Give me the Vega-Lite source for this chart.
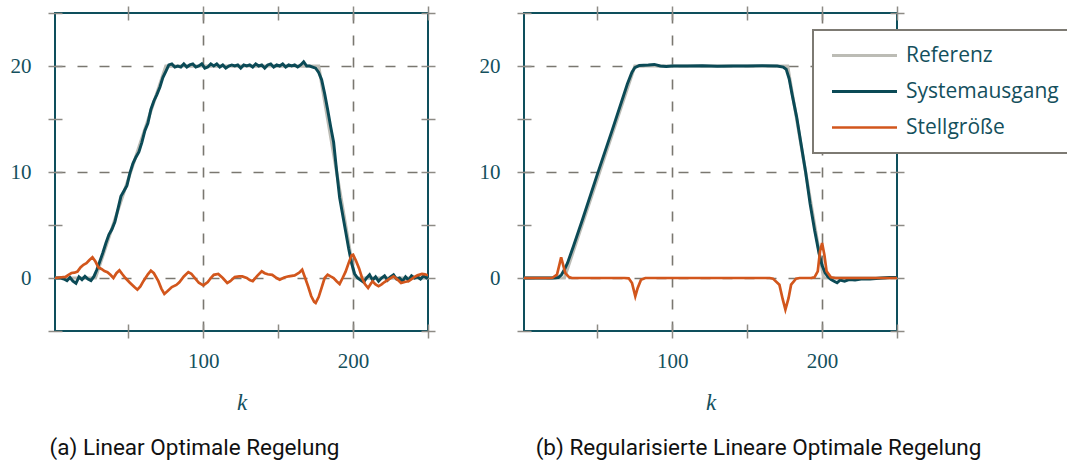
{
  "$schema": "https://vega.github.io/schema/vega-lite/v6.json",
  "background": "white",
  "padding": {"left": 9, "top": 1, "right": 0, "bottom": 0},
  "config": {
    "view": {"stroke": "#0e4f5c", "strokeWidth": 2},
    "axis": {"tickColor": "#8d8b85", "tickWidth": 1.5, "labelFont": "Liberation Serif", "labelFontSize": 21, "labelColor": "#14505d", "gridColor": "#7a7770", "gridWidth": 1.6, "gridDash": [10, 12], "domain": false, "labelOverlap": false, "labelFlush": false},
    "legend": {"strokeWidth": 2}
  },
  "datasets": {
    "a": [
      {"k":1,"r":0},{"k":28,"r":0},{"k":75,"r":20},{"k":177,"r":20},{"k":201,"r":0},{"k":250,"r":0},
      {"k":1,"y":0},{"k":3,"y":0},{"k":5,"y":0},{"k":7,"y":-0.1},{"k":9,"y":-0.25},{"k":11,"y":0.05},{"k":13,"y":-0.3},{"k":15,"y":-0.5},{"k":17,"y":0.1},{"k":19,"y":-0.15},{"k":21,"y":0.15},{"k":23,"y":-0.1},{"k":25,"y":-0.25},{"k":27,"y":0.15},{"k":29,"y":0.8},{"k":31,"y":1.6},{"k":33,"y":2.4},{"k":35,"y":3.3},{"k":37,"y":4.1},{"k":39,"y":4.6},{"k":41,"y":5.3},{"k":43,"y":6.5},{"k":45,"y":7.7},{"k":47,"y":8.2},{"k":49,"y":8.7},{"k":51,"y":9.9},{"k":53,"y":10.8},{"k":55,"y":11.4},{"k":57,"y":11.9},{"k":59,"y":12.8},{"k":61,"y":13.9},{"k":63,"y":14.6},{"k":65,"y":15.9},{"k":67,"y":16.7},{"k":69,"y":17.3},{"k":71,"y":18.0},{"k":73,"y":18.9},{"k":75,"y":19.5},{"k":77,"y":20.1},{"k":79,"y":20.2},{"k":81,"y":19.9},{"k":83,"y":20.0},{"k":85,"y":19.9},{"k":87,"y":20.2},{"k":89,"y":19.9},{"k":91,"y":20.1},{"k":93,"y":20.2},{"k":95,"y":19.9},{"k":97,"y":20.0},{"k":99,"y":20.2},{"k":101,"y":19.8},{"k":103,"y":19.9},{"k":105,"y":20.2},{"k":107,"y":20.0},{"k":109,"y":20.2},{"k":111,"y":19.9},{"k":113,"y":20.1},{"k":115,"y":19.8},{"k":117,"y":20.0},{"k":119,"y":20.1},{"k":121,"y":20.0},{"k":123,"y":20.1},{"k":125,"y":19.8},{"k":127,"y":20.1},{"k":129,"y":20.0},{"k":131,"y":20.1},{"k":133,"y":19.9},{"k":135,"y":20.2},{"k":137,"y":20.0},{"k":139,"y":20.1},{"k":141,"y":19.8},{"k":143,"y":20.1},{"k":145,"y":20.2},{"k":147,"y":19.9},{"k":149,"y":20.1},{"k":151,"y":20.0},{"k":153,"y":20.2},{"k":155,"y":19.9},{"k":157,"y":20.1},{"k":159,"y":20.0},{"k":161,"y":20.1},{"k":163,"y":19.9},{"k":165,"y":20.1},{"k":167,"y":20.4},{"k":169,"y":20.0},{"k":171,"y":20.0},{"k":173,"y":19.9},{"k":175,"y":19.8},{"k":177,"y":19.4},{"k":179,"y":18.7},{"k":181,"y":17.4},{"k":183,"y":15.9},{"k":185,"y":14.3},{"k":187,"y":12.8},{"k":189,"y":10.1},{"k":191,"y":7.6},{"k":193,"y":6.0},{"k":195,"y":4.4},{"k":197,"y":2.8},{"k":199,"y":1.4},{"k":201,"y":0.4},{"k":203,"y":0.0},{"k":205,"y":-0.2},{"k":207,"y":-0.4},{"k":209,"y":0.0},{"k":211,"y":0.3},{"k":213,"y":-0.2},{"k":215,"y":0.1},{"k":217,"y":-0.3},{"k":219,"y":0.0},{"k":221,"y":0.2},{"k":223,"y":-0.2},{"k":225,"y":0.1},{"k":227,"y":0.3},{"k":229,"y":-0.1},{"k":231,"y":0.0},{"k":233,"y":-0.3},{"k":235,"y":0.1},{"k":237,"y":-0.2},{"k":239,"y":0.2},{"k":241,"y":0.0},{"k":243,"y":0.1},{"k":245,"y":-0.1},{"k":247,"y":0.2},{"k":249,"y":0.0},{"k":250,"y":0.1},
      {"k":1,"u":0},{"k":4,"u":0.05},{"k":8,"u":0.1},{"k":10,"u":0.3},{"k":12,"u":0.47},{"k":14,"u":0.5},{"k":16,"u":0.6},{"k":18,"u":1.0},{"k":20,"u":1.25},{"k":22,"u":1.4},{"k":24,"u":1.7},{"k":26,"u":1.95},{"k":28,"u":1.55},{"k":30,"u":1.0},{"k":32,"u":0.85},{"k":34,"u":0.65},{"k":36,"u":0.55},{"k":38,"u":0.3},{"k":40,"u":0.0},{"k":42,"u":0.45},{"k":44,"u":0.72},{"k":46,"u":0.35},{"k":48,"u":0.0},{"k":51,"u":-0.45},{"k":54,"u":-0.85},{"k":56,"u":-1.1},{"k":58,"u":-0.8},{"k":60,"u":-0.3},{"k":63,"u":0.35},{"k":65,"u":0.7},{"k":67,"u":0.45},{"k":70,"u":-0.3},{"k":72,"u":-1.0},{"k":74,"u":-1.5},{"k":76,"u":-1.25},{"k":79,"u":-0.85},{"k":82,"u":-0.65},{"k":84,"u":-0.4},{"k":87,"u":0.15},{"k":90,"u":0.56},{"k":92,"u":0.4},{"k":94,"u":0.06},{"k":97,"u":-0.45},{"k":100,"u":-0.7},{"k":103,"u":-0.38},{"k":105,"u":0.0},{"k":107,"u":0.3},{"k":110,"u":0.38},{"k":113,"u":0.0},{"k":116,"u":-0.47},{"k":118,"u":-0.3},{"k":121,"u":0.1},{"k":124,"u":0.16},{"k":126,"u":0.15},{"k":129,"u":0.0},{"k":131,"u":-0.2},{"k":133,"u":-0.3},{"k":136,"u":0.2},{"k":139,"u":0.63},{"k":141,"u":0.45},{"k":143,"u":0.35},{"k":146,"u":0.3},{"k":149,"u":0.0},{"k":151,"u":-0.16},{"k":154,"u":0.05},{"k":157,"u":0.16},{"k":161,"u":0.25},{"k":164,"u":0.5},{"k":166,"u":0.78},{"k":168,"u":0.0},{"k":170,"u":-0.8},{"k":172,"u":-1.7},{"k":174,"u":-2.25},{"k":175,"u":-2.35},{"k":177,"u":-1.8},{"k":179,"u":-0.9},{"k":181,"u":0.0},{"k":183,"u":0.31},{"k":185,"u":0.15},{"k":187,"u":0.0},{"k":189,"u":-0.3},{"k":191,"u":-0.56},{"k":193,"u":0.0},{"k":195,"u":0.6},{"k":197,"u":1.4},{"k":199,"u":2.15},{"k":200,"u":2.2},{"k":202,"u":1.6},{"k":204,"u":0.9},{"k":206,"u":0.0},{"k":208,"u":-0.6},{"k":210,"u":-0.94},{"k":212,"u":-0.5},{"k":213,"u":-0.31},{"k":215,"u":-0.6},{"k":217,"u":-0.78},{"k":219,"u":-0.6},{"k":221,"u":-0.38},{"k":224,"u":-0.1},{"k":227,"u":0.16},{"k":230,"u":-0.2},{"k":232,"u":-0.47},{"k":235,"u":-0.35},{"k":237,"u":-0.31},{"k":239,"u":-0.1},{"k":241,"u":0.1},{"k":243,"u":0.25},{"k":246,"u":0.38},{"k":248,"u":0.35},{"k":250,"u":0.25}
    ],
    "b": [
      {"k":1,"r":0},{"k":28,"r":0},{"k":75,"r":20},{"k":177,"r":20},{"k":201,"r":0},{"k":250,"r":0},
      {"k":1,"y":0},{"k":20,"y":0},{"k":24,"y":0.05},{"k":26,"y":0.3},{"k":28,"y":0.8},{"k":30,"y":1.4},{"k":32,"y":2.2},{"k":34,"y":3.0},{"k":40,"y":5.5},{"k":50,"y":9.8},{"k":60,"y":14.0},{"k":70,"y":18.3},{"k":73,"y":19.4},{"k":75,"y":19.85},{"k":78,"y":20.05},{"k":84,"y":20.1},{"k":88,"y":20.15},{"k":92,"y":20.0},{"k":96,"y":19.95},{"k":100,"y":20.0},{"k":110,"y":20.0},{"k":120,"y":20.02},{"k":130,"y":19.98},{"k":140,"y":20.0},{"k":150,"y":20.0},{"k":160,"y":20.02},{"k":170,"y":20.0},{"k":174,"y":19.9},{"k":176,"y":19.7},{"k":178,"y":18.8},{"k":180,"y":17.3},{"k":183,"y":15.2},{"k":186,"y":12.6},{"k":189,"y":10.0},{"k":192,"y":7.0},{"k":195,"y":4.5},{"k":198,"y":2.3},{"k":200,"y":1.2},{"k":202,"y":0.5},{"k":204,"y":0.1},{"k":206,"y":-0.15},{"k":208,"y":-0.3},{"k":210,"y":-0.45},{"k":212,"y":-0.2},{"k":215,"y":-0.3},{"k":218,"y":-0.15},{"k":222,"y":-0.2},{"k":226,"y":-0.1},{"k":232,"y":-0.1},{"k":240,"y":0.0},{"k":245,"y":0.05},{"k":250,"y":0.05},
      {"k":1,"u":0},{"k":18,"u":0},{"k":20,"u":0.02},{"k":23,"u":0.31},{"k":24.9,"u":1.41},{"k":25.8,"u":1.95},{"k":27.1,"u":1.25},{"k":28.6,"u":0.47},{"k":30.9,"u":0.1},{"k":33,"u":0},{"k":68,"u":0},{"k":70.9,"u":-0.03},{"k":73.1,"u":-0.47},{"k":75.3,"u":-1.72},{"k":76.9,"u":-0.94},{"k":79.1,"u":-0.16},{"k":82,"u":0},{"k":165,"u":0},{"k":167.2,"u":-0.06},{"k":171.5,"u":-0.63},{"k":173.7,"u":-2.0},{"k":175.5,"u":-2.98},{"k":177.6,"u":-1.9},{"k":179.3,"u":-0.63},{"k":182.6,"u":-0.06},{"k":185,"u":0},{"k":193,"u":0.02},{"k":194.9,"u":0.06},{"k":197.1,"u":0.63},{"k":198.6,"u":2.5},{"k":200,"u":3.3},{"k":201.5,"u":2.2},{"k":203,"u":0.63},{"k":205.9,"u":0.06},{"k":209,"u":0},{"k":250,"u":0}
    ]
  },
  "spacing": 96,
  "bounds": "flush",
  "resolve": {"scale": {"color": "independent", "strokeWidth": "independent"}, "legend": {"color": "independent"}},
  "hconcat": [
    {
      "width": 373, "height": 318,
      "data": {"name": "a"},
      "transform": [{"fold": ["r", "y", "u"], "as": ["s", "v"]}, {"filter": "isValid(datum.v)"}],
      "title": {"text": "(a) Linear Optimale Regelung", "orient": "bottom", "anchor": "middle", "frame": "group", "dx": -47, "font": "Roboto", "fontSize": 22.5, "fontWeight": "normal", "color": "#111111", "offset": 23},
      "resolve": {"axis": {"x": "independent", "y": "independent"}},
      "layer": [
        {
          "mark": {"type": "line", "clip": true},
          "encoding": {
            "x": {"field": "k", "type": "quantitative", "scale": {"domain": [1, 250], "nice": false, "zero": false},
              "axis": {"orient": "bottom", "values": [50, 100, 150, 200, 250], "offset": -7, "tickSize": 14, "grid": true,
                "gridOpacity": {"condition": {"test": "datum.value == 100 || datum.value == 200", "value": 1}, "value": 0},
                "labelExpr": "datum.value == 100 || datum.value == 200 ? datum.label : ''", "labelPadding": 12,
                "title": "k", "titleFont": "Liberation Serif", "titleFontStyle": "italic", "titleFontWeight": "normal", "titleFontSize": 23, "titleColor": "#14505d", "titlePadding": 20}},
            "y": {"field": "v", "type": "quantitative", "scale": {"domain": [-5, 25], "nice": false, "zero": false},
              "axis": {"orient": "left", "values": [-5, 0, 5, 10, 15, 20, 25], "offset": -7, "tickSize": 14, "grid": true,
                "gridOpacity": {"condition": {"test": "datum.value == 0 || datum.value == 10 || datum.value == 20", "value": 1}, "value": 0},
                "labelExpr": "datum.value == 0 || datum.value == 10 || datum.value == 20 ? datum.label : ''", "labelPadding": 17, "title": null}},
            "color": {"field": "s", "type": "nominal", "scale": {"domain": ["r", "y", "u"], "range": ["#bcbcb5", "#0b4a56", "#d2561c"]}, "legend": null},
            "strokeWidth": {"field": "s", "type": "nominal", "scale": {"domain": ["r", "y", "u"], "range": [3.2, 2.7, 2.7]}, "legend": null}
          }
        },
        {
          "mark": {"type": "line", "opacity": 0},
          "encoding": {
            "x": {"field": "k", "type": "quantitative", "axis": {"orient": "top", "values": [50, 100, 150, 200, 250], "offset": -7, "tickSize": 14, "labels": false, "grid": false, "title": null}},
            "y": {"field": "v", "type": "quantitative", "axis": {"orient": "right", "values": [-5, 0, 5, 10, 15, 20, 25], "offset": -7, "tickSize": 14, "labels": false, "grid": false, "title": null}}
          }
        }
      ]
    },
    {
      "width": 373, "height": 318,
      "data": {"name": "b"},
      "transform": [{"fold": ["r", "y", "u"], "as": ["s", "v"]}, {"filter": "isValid(datum.v)"}],
      "title": {"text": "(b) Regularisierte Lineare Optimale Regelung", "orient": "bottom", "anchor": "middle", "frame": "group", "dx": 48, "font": "Roboto", "fontSize": 22.5, "fontWeight": "normal", "color": "#111111", "offset": 23},
      "resolve": {"axis": {"x": "independent", "y": "independent"}},
      "layer": [
        {
          "mark": {"type": "line", "clip": true},
          "encoding": {
            "x": {"field": "k", "type": "quantitative", "scale": {"domain": [1, 250], "nice": false, "zero": false},
              "axis": {"orient": "bottom", "values": [50, 100, 150, 200, 250], "offset": -7, "tickSize": 14, "grid": true,
                "gridOpacity": {"condition": {"test": "datum.value == 100 || datum.value == 200", "value": 1}, "value": 0},
                "labelExpr": "datum.value == 100 || datum.value == 200 ? datum.label : ''", "labelPadding": 12,
                "title": "k", "titleFont": "Liberation Serif", "titleFontStyle": "italic", "titleFontWeight": "normal", "titleFontSize": 23, "titleColor": "#14505d", "titlePadding": 20}},
            "y": {"field": "v", "type": "quantitative", "scale": {"domain": [-5, 25], "nice": false, "zero": false},
              "axis": {"orient": "left", "values": [-5, 0, 5, 10, 15, 20, 25], "offset": -7, "tickSize": 14, "grid": true,
                "gridOpacity": {"condition": {"test": "datum.value == 0 || datum.value == 10 || datum.value == 20", "value": 1}, "value": 0},
                "labelExpr": "datum.value == 0 || datum.value == 10 || datum.value == 20 ? datum.label : ''", "labelPadding": 17, "title": null}},
            "color": {"field": "s", "type": "nominal", "scale": {"domain": ["r", "y", "u"], "range": ["#bcbcb5", "#0b4a56", "#d2561c"]},
              "legend": {"orient": "none", "legendX": 289, "legendY": 17, "title": null, "symbolType": "M-1,0H9", "symbolSize": 169, "symbolStrokeWidth": 3, "symbolOpacity": 1,
                "labelFont": "Open Sans", "labelFontSize": 21, "labelColor": "#14505d", "labelOffset": 57, "strokeColor": "#7d7a73", "fillColor": "white", "padding": 15, "rowPadding": 14,
                "labelExpr": "datum.label == 'r' ? 'Referenz' : datum.label == 'y' ? 'Systemausgang' : 'Stellgröße'"}},
            "strokeWidth": {"field": "s", "type": "nominal", "scale": {"domain": ["r", "y", "u"], "range": [3.2, 2.7, 2.7]}, "legend": null}
          }
        },
        {
          "mark": {"type": "line", "opacity": 0},
          "encoding": {
            "x": {"field": "k", "type": "quantitative", "axis": {"orient": "top", "values": [50, 100, 150, 200, 250], "offset": -7, "tickSize": 14, "labels": false, "grid": false, "title": null}},
            "y": {"field": "v", "type": "quantitative", "axis": {"orient": "right", "values": [-5, 0, 5, 10, 15, 20, 25], "offset": -7, "tickSize": 14, "labels": false, "grid": false, "title": null}}
          }
        }
      ]
    }
  ]
}
